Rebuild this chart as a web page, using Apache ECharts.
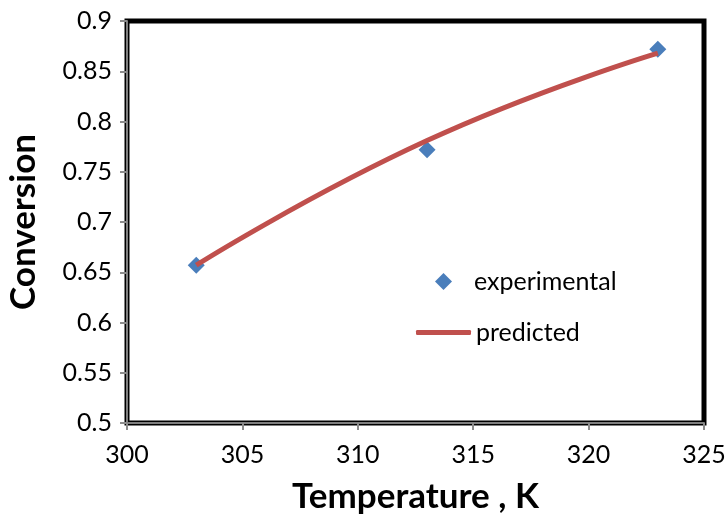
<!DOCTYPE html>
<html>
<head>
<meta charset="utf-8">
<script src="https://cdn.jsdelivr.net/npm/echarts@6/dist/echarts.min.js"></script>
<style>html,body{margin:0;padding:0;background:#fff}#c{width:726px;height:524px}</style>
</head>
<body>
<div id="c"></div>
<script>
const temps = [303, 313, 323];
const experimental = [0.657, 0.772, 0.872];
const predicted = [0.657, 0.781, 0.868];
const xTicks = [300, 305, 310, 315, 320, 325];
const yTicks = [0.5, 0.55, 0.6, 0.65, 0.7, 0.75, 0.8, 0.85, 0.9];

const FONT = 'Lato';
const chart = echarts.init(document.getElementById('c'), null, {renderer: 'canvas'});
chart.setOption({
  backgroundColor: '#fff',
  animation: false,
  grid: {left: 127, right: 22, top: 21, bottom: 101, show: true, borderColor: '#000', borderWidth: 5,
         backgroundColor: 'transparent', containLabel: false, outerBoundsMode: 'none'},
  xAxis: {
    type: 'value', min: xTicks[0], max: xTicks[xTicks.length - 1], interval: 5,
    name: 'Temperature , K', nameLocation: 'middle', nameGap: 56,
    nameTextStyle: {fontFamily: FONT, fontWeight: 'bold', fontSize: 35, color: '#000'},
    axisLine: {show: true, onZero: false, lineStyle: {color: '#7f7f7f', width: 2}},
    axisTick: {show: true, inside: false, length: 7, lineStyle: {color: '#8c8c8c', width: 2}},
    axisLabel: {fontFamily: FONT, fontSize: 25, color: '#000', margin: 19},
    splitLine: {show: false}
  },
  yAxis: {
    type: 'value', min: yTicks[0], max: yTicks[yTicks.length - 1], interval: 0.05,
    name: 'Conversion', nameLocation: 'middle', nameGap: 86, nameRotate: 90,
    nameTextStyle: {fontFamily: FONT, fontWeight: 'bold', fontSize: 35, color: '#000'},
    axisLine: {show: true, onZero: false, lineStyle: {color: '#7f7f7f', width: 2}},
    axisTick: {show: true, inside: false, length: 7, lineStyle: {color: '#8c8c8c', width: 2}},
    axisLabel: {fontFamily: FONT, fontSize: 25, color: '#000', margin: 15,
      formatter: v => String(+v.toFixed(2))},
    splitLine: {show: false}
  },
  legend: [
    {data: [{name: 'experimental', icon: 'diamond'}], left: 430, top: 264, itemWidth: 17, itemHeight: 17,
     itemStyle: {opacity: 1},
     textStyle: {fontFamily: FONT, fontSize: 25, color: '#000', padding: [0, 0, 0, 17]}},
    {data: [{name: 'predicted', icon: 'roundRect'}], left: 411, top: 315, itemWidth: 55, itemHeight: 5,
     textStyle: {fontFamily: FONT, fontSize: 25, color: '#000'}}
  ],
  series: [
    {name: 'predicted', type: 'line', smooth: 0.5, showSymbol: false, symbol: 'none',
     data: temps.map((t, i) => [t, predicted[i]]),
     lineStyle: {color: '#C0504D', width: 5}, itemStyle: {color: '#C0504D'}, z: 2},
    {name: 'experimental', type: 'scatter', symbol: 'diamond', symbolSize: 17,
     data: temps.map((t, i) => [t, experimental[i]]),
     itemStyle: {color: '#4A7EBB', opacity: 1}, z: 1}
  ]
});
</script>
</body>
</html>
